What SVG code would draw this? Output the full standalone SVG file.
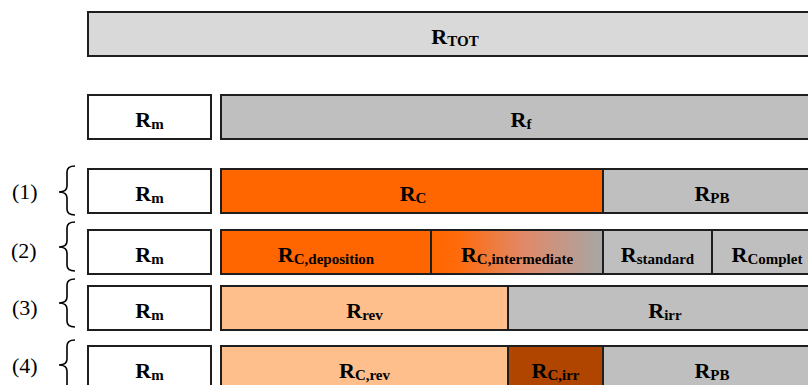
<svg xmlns="http://www.w3.org/2000/svg" width="808" height="385" viewBox="0 0 808 385">
<defs>
<style>
.box{stroke:#1e1e1e;stroke-width:2}
.lbl{font-family:"Liberation Serif","Times New Roman",serif;font-weight:bold;font-size:22px;text-anchor:middle;fill:#000}
.sub{font-size:15px}
.num{font-family:"Liberation Serif","Times New Roman",serif;font-size:22px;fill:#000}
.brace{fill:none;stroke:#000;stroke-width:1.6}
.white{fill:#fff}.lgray{fill:#d9d9d9}.gray{fill:#bfbfbf}.orange{fill:#ff6600}.peach{fill:#ffbf8c}.brown{fill:#b04500}
</style>
<linearGradient id="gInt" x1="0" y1="0" x2="1" y2="0">
<stop offset="0" stop-color="#ff6600"/>
<stop offset="0.15" stop-color="#ff6a0a"/>
<stop offset="0.55" stop-color="#e08a6a"/>
<stop offset="1" stop-color="#a6a6a6"/>
</linearGradient>
</defs>

<g id="rtot"><rect class="box lgray" x="88" y="12" width="734" height="44"/><text class="lbl" x="455" y="43.5">R<tspan class="sub" dy="2">TOT</tspan></text></g>

<g id="rm0"><rect class="box white" x="88" y="95" width="123" height="44"/><text class="lbl" x="149.5" y="126.5">R<tspan class="sub" dy="2">m</tspan></text></g>
<g id="rf"><rect class="box gray" x="221" y="95" width="601" height="44"/><text class="lbl" x="521" y="126.5">R<tspan class="sub" dy="2">f</tspan></text></g>

<g id="rm1"><rect class="box white" x="88" y="169" width="123" height="44"/><text class="lbl" x="149.5" y="200.5">R<tspan class="sub" dy="2">m</tspan></text></g>
<g id="rc1"><rect class="box orange" x="221" y="169" width="382" height="44"/><text class="lbl" x="413" y="200.5">R<tspan class="sub" dy="2">C</tspan></text></g>
<g id="rpb1"><rect class="box gray" x="603" y="169" width="219" height="44"/><text class="lbl" x="712" y="200.5">R<tspan class="sub" dy="2">PB</tspan></text></g>

<g id="rm2"><rect class="box white" x="88" y="230" width="123" height="44"/><text class="lbl" x="149.5" y="261.5">R<tspan class="sub" dy="2">m</tspan></text></g>
<g id="rdep"><rect class="box orange" x="221" y="230" width="210" height="44"/><text class="lbl" x="326" y="261.5">R<tspan class="sub" dy="2">C,deposition</tspan></text></g>
<g id="rint"><rect class="box" fill="url(#gInt)" x="431" y="230" width="172" height="44"/><text class="lbl" x="517" y="261.5">R<tspan class="sub" dy="2">C,intermediate</tspan></text></g>
<g id="rstd"><rect class="box gray" x="603" y="230" width="109" height="44"/><text class="lbl" x="657.5" y="261.5">R<tspan class="sub" dy="2">standard</tspan></text></g>
<g id="rcomp"><rect class="box gray" x="712" y="230" width="110" height="44"/><text class="lbl" x="767" y="261.5">R<tspan class="sub" dy="2">Complet</tspan></text></g>

<g id="rm3"><rect class="box white" x="88" y="286" width="123" height="44"/><text class="lbl" x="149.5" y="317.5">R<tspan class="sub" dy="2">m</tspan></text></g>
<g id="rrev"><rect class="box peach" x="221" y="286" width="287" height="44"/><text class="lbl" x="364.5" y="317.5">R<tspan class="sub" dy="2">rev</tspan></text></g>
<g id="rirr"><rect class="box gray" x="508" y="286" width="314" height="44"/><text class="lbl" x="665" y="317.5">R<tspan class="sub" dy="2">irr</tspan></text></g>

<g id="rm4"><rect class="box white" x="88" y="346" width="123" height="44"/><text class="lbl" x="149.5" y="377.5">R<tspan class="sub" dy="2">m</tspan></text></g>
<g id="rcrev"><rect class="box peach" x="221" y="346" width="287" height="44"/><text class="lbl" x="364.5" y="377.5">R<tspan class="sub" dy="2">C,rev</tspan></text></g>
<g id="rcirr"><rect class="box brown" x="508" y="346" width="95" height="44"/><text class="lbl" x="555.5" y="377.5">R<tspan class="sub" dy="2">C,irr</tspan></text></g>
<g id="rpb4"><rect class="box gray" x="603" y="346" width="219" height="44"/><text class="lbl" x="712" y="377.5">R<tspan class="sub" dy="2">PB</tspan></text></g>

<g id="brackets">
<path class="brace" d="M75,166 Q67,166 67,172 L67,186 Q67,192 59,192 Q67,192 67,198 L67,209 Q67,215 75,215"/>
<path class="brace" d="M75,222 Q67,222 67,228 L67,241 Q67,247 59,247 Q67,247 67,253 L67,265 Q67,271 75,271"/>
<path class="brace" d="M75,279 Q67,279 67,285 L67,297 Q67,303 59,303 Q67,303 67,309 L67,321 Q67,327 75,327"/>
<path class="brace" d="M75,340 Q67,340 67,346 L67,359 Q67,365 59,365 Q67,365 67,371 L67,384 Q67,390 75,390"/>
</g>

<g id="labels">
<text class="num" x="12" y="199">(1)</text>
<text class="num" x="11" y="258">(2)</text>
<text class="num" x="12" y="315">(3)</text>
<text class="num" x="12" y="373">(4)</text>
</g>
</svg>
